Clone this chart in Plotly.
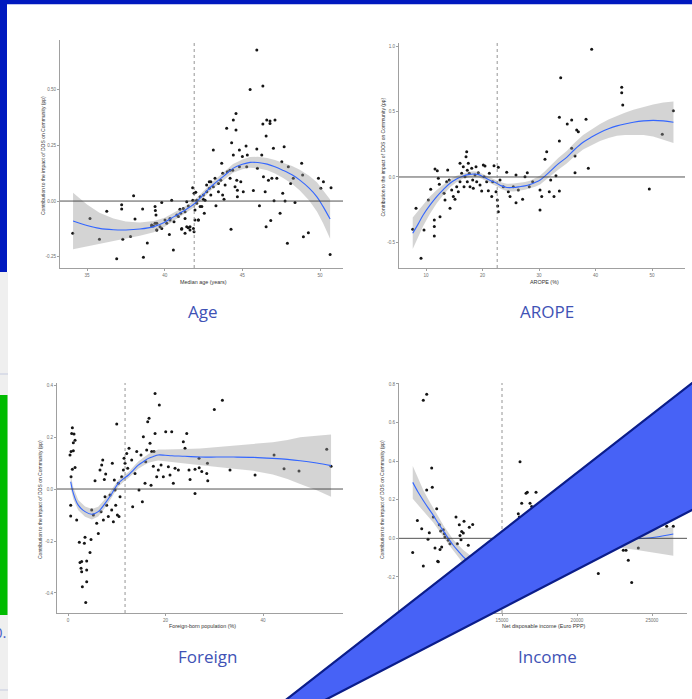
import plotly.graph_objects as go

W, H = 692, 699

# ---------------- Age panel ----------------
age_x = [34.08, 35.19, 35.8, 36.27, 36.91, 37.23, 37.23, 37.3, 37.8, 38.0, 38.09, 38.58, 38.63, 38.88,
         39.16, 39.38, 39.4, 39.44, 39.49, 39.81, 40.3, 40.45, 40.56, 40.98, 41.09, 41.31, 41.42, 41.52,
         41.8, 41.89, 41.89, 42.0, 42.17, 42.28, 42.49, 42.55, 42.7, 42.87, 42.97, 43.13, 43.3, 43.46,
         43.67, 43.73, 43.82, 43.99, 44.2, 44.27, 44.31, 44.42, 44.42, 44.59, 44.59, 44.64, 44.68, 44.81,
         44.9, 45.0, 45.24, 45.28, 45.32, 45.5, 45.71, 45.93, 45.93, 45.97, 46.1, 46.25, 46.32, 46.32,
         46.36, 46.47, 46.53, 46.57, 46.53, 46.68, 46.78, 46.83, 46.9, 47.0, 47.04, 47.22, 47.43, 47.54,
         47.6, 47.69, 47.75, 47.9, 47.96, 48.11, 48.28, 48.39, 48.82, 48.88, 48.93, 49.25, 49.9, 50.05,
         50.22, 50.65, 50.71,
         39.27, 39.49, 39.7, 40.02, 40.34, 40.6, 40.78, 41.03, 41.2, 41.31, 41.52, 41.63, 41.81, 41.95,
         42.06, 42.17, 42.28, 42.39, 42.49, 42.6, 42.71, 42.88, 42.97, 43.13, 43.24, 43.46, 43.61, 43.74,
         43.89, 44.03, 44.21, 44.38, 44.53, 44.68, 44.81, 45.06, 46.78, 47.1,
         39.16, 39.38, 39.49, 39.81, 40.13, 40.34, 40.88, 41.1, 41.31, 41.42, 41.63, 41.85, 41.95, 42.06]
age_y = [-0.145, -0.078, -0.172, -0.046, -0.259, -0.017, -0.036, -0.172, -0.159, 0.024, -0.081, -0.036, -0.253, -0.189,
         -0.112, -0.025, -0.043, -0.063, -0.130, -0.007, -0.150, 0.004, -0.220, -0.037, -0.127, -0.145, -0.003, -0.120,
         0.06, 0.035, -0.138, 0.039, -0.085, -0.025, 0.008, -0.055, 0.072, 0.087, 0.027, 0.229, -0.021, 0.042,
         0.17, 0.027, 0.008, 0.327, 0.139, -0.127, 0.262, 0.364, 0.207, 0.394, 0.319, 0.094, 0.019, 0.229,
         0.087, 0.2, 0.247, 0.154, 0.207, 0.502, 0.047, 0.679, 0.234, 0.147, -0.021, 0.207, 0.346, 0.517,
         0.109, 0.042, 0.292, 0.364, -0.115, 0.094, 0.349, -0.088, 0.102, 0.237, 0.001, 0.102, -0.055, 0.177,
         0.035, 0.244, 0.0, -0.19, 0.154, 0.079, 0.102, -0.007, 0.17, 0.117, -0.16, -0.142, 0.102, 0.057,
         0.087, -0.24, 0.06,
         -0.112, -0.1, -0.115, -0.085, -0.078, -0.093, -0.063, -0.055, -0.033, -0.078, -0.022, -0.115, 0.004, -0.04,
         -0.01, -0.085, 0.019, -0.025, 0.027, 0.004, 0.042, 0.057, 0.087, 0.064, 0.102, 0.079, 0.094, 0.125,
         0.072, 0.132, 0.102, 0.139, 0.064, 0.049, 0.154, 0.042, 0.36, 0.364,
         -0.108, -0.1, -0.13, -0.123, -0.1, -0.085, -0.07, -0.123, -0.048, -0.115, -0.13, -0.123, -0.085, 0.004]
age_fit_x = [34.1, 35.0, 35.8, 36.7, 37.5, 38.4, 39.3, 40.0, 40.6, 41.2, 41.9, 42.5, 43.1, 43.8, 44.4, 45.0,
             45.5, 46.0, 46.6, 47.1, 47.6, 48.2, 48.7, 49.3, 49.8, 50.2, 50.65]
age_fit_y = [-0.090, -0.110, -0.123, -0.129, -0.130, -0.126, -0.115, -0.095, -0.070, -0.045, -0.013, 0.030, 0.072,
             0.112, 0.147, 0.165, 0.174, 0.173, 0.166, 0.154, 0.139, 0.118, 0.094, 0.058, 0.019, -0.025, -0.081]
age_fit_lo = [-0.217, -0.205, -0.193, -0.179, -0.168, -0.156, -0.140, -0.115, -0.088, -0.061, -0.028, 0.015, 0.056,
              0.094, 0.127, 0.143, 0.150, 0.147, 0.138, 0.124, 0.105, 0.078, 0.047, 0.002, -0.047, -0.100, -0.169]
age_fit_hi = [0.037, -0.015, -0.053, -0.079, -0.092, -0.096, -0.090, -0.075, -0.052, -0.029, 0.002, 0.045, 0.088,
              0.130, 0.167, 0.187, 0.198, 0.199, 0.194, 0.184, 0.173, 0.158, 0.141, 0.114, 0.085, 0.050, 0.007]
age_xticks = [35, 40, 45, 50]
age_xticklabels = ["35", "40", "45", "50"]
age_yticks = [-0.25, 0.0, 0.25, 0.5]
age_yticklabels = ["-0.25", "0.00", "0.25", "0.50"]
age_threshold = 41.9

# ---------------- AROPE panel ----------------
arope_x = [7.65, 8.23, 9.12, 9.65, 10.42, 10.83, 11.47, 11.47, 11.47, 11.59, 12.0, 12.18, 12.36, 12.48, 13.19,
           13.36, 13.66, 13.84, 14.12, 14.25, 14.55, 14.83, 15.13, 15.43, 15.72, 16.02, 16.02, 16.31, 16.6,
           16.73, 16.9, 17.08, 17.2, 17.31, 17.31, 17.49, 17.66, 17.79, 18.09, 18.26, 18.37, 18.67, 18.85,
           18.97, 19.26, 19.56, 19.85, 20.14, 20.27, 20.44, 20.74, 21.03, 21.21, 21.63, 21.8, 22.04, 22.39,
           22.62, 22.69, 22.8, 22.8, 23.1, 23.68, 24.28, 24.57, 24.87, 25.45, 25.93, 25.93, 26.34, 27.1,
           27.52, 27.93, 28.28, 28.88, 30.18, 30.18, 30.48, 31.06, 31.36, 31.82, 32.07, 32.65, 33.0, 33.6,
           33.6, 33.6, 33.84, 35.0, 35.78, 35.78, 36.37, 36.37, 36.67, 36.96, 38.32, 38.73, 39.32, 44.64,
           44.64, 44.82, 49.52, 51.82, 53.77]
arope_y = [-0.40, -0.239, -0.621, -0.405, -0.176, -0.094, -0.328, -0.379, -0.45, 0.061, 0.048, -0.01, -0.056,
           -0.303, -0.124, -0.176, -0.036, 0.053, -0.023, -0.239, -0.099, -0.15, -0.17, -0.074, -0.112, 0.104,
           -0.036, 0.028, 0.079, -0.074, 0.002, 0.155, 0.193, 0.051, -0.036, 0.104, 0.028, -0.074, 0.066,
           -0.023, -0.086, 0.015, 0.079, -0.036, 0.033, -0.061, -0.107, 0.092, 0.002, 0.084, -0.036, -0.105,
           0.028, -0.15, -0.036, 0.086, -0.112, -0.176, -0.221, -0.265, 0.074, -0.023, -0.074, 0.036, -0.112,
           -0.15, -0.074, 0.015, -0.196, -0.099, -0.17, 0.002, 0.033, -0.074, -0.036, -0.252, -0.099, -0.15,
           0.135, 0.193, -0.112, -0.023, -0.15, 0.01, 0.456, 0.275, -0.107, 0.758, 0.405, 0.435, 0.219, 0.16,
           0.033, 0.359, 0.346, 0.44, 0.066, 0.975, 0.685, 0.644, 0.55, -0.092, 0.326, 0.506]
arope_fit_x = [7.65, 8.6, 9.5, 10.7, 11.9, 13.1, 14.25, 15.4, 16.6, 17.5, 18.4, 19.3, 20.1, 21.3, 22.5, 23.4,
               24.3, 25.5, 26.6, 27.5, 28.4, 29.3, 30.2, 31.0, 32.0, 33.4, 34.9, 36.3, 37.8, 39.3, 40.8, 42.3,
               43.8, 45.2, 46.7, 48.5, 50.2, 52.0, 53.8]
arope_fit_y = [-0.43, -0.36, -0.29, -0.215, -0.15, -0.095, -0.048, -0.015, 0.008, 0.018, 0.023, 0.018, 0.002,
               -0.025, -0.048, -0.068, -0.080, -0.080, -0.074, -0.068, -0.058, -0.042, -0.023, 0.005, 0.045, 0.10,
               0.15, 0.21, 0.265, 0.305, 0.34, 0.368, 0.39, 0.405, 0.418, 0.428, 0.432, 0.428, 0.418]
arope_fit_lo = [-0.55, -0.46, -0.375, -0.28, -0.20, -0.135, -0.078, -0.04, -0.012, -0.002, 0.003, -0.002, -0.018,
                -0.045, -0.07, -0.093, -0.108, -0.11, -0.104, -0.098, -0.088, -0.074, -0.058, -0.032, 0.005, 0.056,
                0.102, 0.158, 0.209, 0.245, 0.275, 0.298, 0.314, 0.32, 0.323, 0.32, 0.31, 0.288, 0.26]
arope_fit_hi = [-0.31, -0.26, -0.205, -0.15, -0.10, -0.055, -0.018, 0.01, 0.028, 0.038, 0.043, 0.038, 0.022,
                -0.005, -0.026, -0.043, -0.052, -0.05, -0.044, -0.038, -0.028, -0.01, 0.012, 0.042, 0.085, 0.144,
                0.198, 0.262, 0.321, 0.365, 0.405, 0.438, 0.466, 0.49, 0.513, 0.536, 0.554, 0.568, 0.576]
arope_xticks = [10, 20, 30, 40, 50]
arope_xticklabels = ["10", "20", "30", "40", "50"]
arope_yticks = [-0.5, 0.0, 0.5, 1.0]
arope_yticklabels = ["-0.5", "0.0", "0.5", "1.0"]
arope_threshold = 22.6

# ---------------- Foreign panel ----------------
foreign_x = [0.89, 0.75, 1.23, 1.44, 1.09, 0.62, 1.09, 0.41, 1.44, 0.89, 0.62, 0.55, 0.55, 1.78, 2.32, 3.35,
             3.49, 2.46, 2.8, 2.67, 2.8, 3.83, 3.83, 2.94, 3.83, 3.63, 4.51, 4.72, 4.86, 5.2, 5.54, 5.88, 6.22,
             6.56, 6.77, 6.91, 7.12, 7.25, 7.45, 7.59, 7.73, 7.93, 8.27, 8.62, 8.96, 9.09, 9.3, 9.5, 9.64, 9.78,
             9.99, 10.12, 10.32, 10.46, 10.67, 11.01, 11.35, 11.49, 11.69, 12.04, 12.24, 12.51, 13.06, 13.26,
             13.74, 14.09, 14.56, 14.97, 15.25, 15.45, 15.79, 15.93, 16.14, 16.34, 16.62, 16.82, 17.03, 17.16,
             17.5, 17.64, 17.85, 17.85, 18.19, 18.52, 18.73, 19.08, 19.55, 20.04, 20.58, 20.92, 21.27, 21.6,
             21.95, 22.63, 23.65, 24.0, 24.35, 24.82, 25.03, 26.05, 26.05, 26.87, 27.43, 28.45, 28.66, 26.9,
             28.6, 30.01, 31.66, 33.23, 38.36, 42.26, 44.31, 47.38, 53.06, 53.95]
foreign_y = [0.236, 0.214, 0.212, 0.188, 0.178, 0.144, 0.147, 0.131, 0.083, 0.076, 0.047, -0.062, -0.104, -0.119,
             -0.205, -0.209, -0.186, -0.283, -0.279, -0.305, -0.318, -0.277, -0.312, -0.376, -0.357, -0.437,
             -0.244, -0.194, -0.081, -0.1, 0.032, -0.132, -0.171, 0.073, -0.087, 0.092, 0.112, -0.119, 0.037,
             -0.03, 0.058, -0.062, -0.106, -0.023, -0.081, 0.099, -0.126, 0.035, -0.004, -0.062, 0.25, -0.1,
             0.022, -0.106, -0.03, 0.047, 0.073, 0.118, 0.099, 0.137, 0.08, 0.157, 0.112, -0.068, 0.06, 0.144,
             -0.004, 0.131, -0.049, 0.201, 0.022, 0.105, 0.15, 0.259, 0.272, 0.176, 0.015, 0.144, 0.088, 0.144,
             0.368, 0.214, 0.047, 0.073, 0.323, 0.092, 0.047, 0.22, 0.086, 0.054, 0.22, 0.022, 0.08, 0.073,
             0.182, 0.157, 0.214, 0.073, 0.037, -0.017, 0.076, 0.118, 0.067, 0.06, 0.032, 0.082, 0.099, 0.306,
             0.342, 0.073, 0.054, 0.131, 0.078, 0.069, 0.153, 0.088]
foreign_fit_x = [0.55, 1.1, 2.1, 3.5, 4.9, 6.2, 7.6, 9.0, 10.3, 11.4, 12.4, 13.4, 14.4, 15.5, 16.5, 17.5, 18.5,
                 19.9, 21.3, 24.0, 27.1, 30.5, 34.0, 38.0, 42.0, 45.0, 47.6, 51.0, 53.95]
foreign_fit_y = [0.028, -0.017, -0.062, -0.087, -0.097, -0.087, -0.055, -0.017, 0.022, 0.040, 0.054, 0.073, 0.092,
                 0.106, 0.118, 0.125, 0.131, 0.130, 0.128, 0.126, 0.123, 0.123, 0.123, 0.122, 0.118, 0.114, 0.109,
                 0.100, 0.090]
foreign_fit_lo = [0.003, -0.039, -0.082, -0.107, -0.117, -0.106, -0.072, -0.032, 0.009, 0.028, 0.042, 0.060, 0.078,
                  0.091, 0.101, 0.106, 0.110, 0.108, 0.104, 0.098, 0.090, 0.084, 0.078, 0.070, 0.056, 0.039, 0.019,
                  -0.005, -0.030]
foreign_fit_hi = [0.053, 0.005, -0.042, -0.067, -0.077, -0.068, -0.038, -0.002, 0.035, 0.052, 0.066, 0.086, 0.106,
                  0.121, 0.135, 0.144, 0.152, 0.152, 0.152, 0.154, 0.156, 0.162, 0.168, 0.174, 0.180, 0.189, 0.199,
                  0.205, 0.210]
foreign_xticks = [0, 20, 40]
foreign_xticklabels = ["0", "20", "40"]
foreign_yticks = [-0.4, -0.2, 0.0, 0.2, 0.4]
foreign_yticklabels = ["-0.4", "-0.2", "0.0", "0.2", "0.4"]
foreign_threshold = 11.7

# ---------------- Income panel ----------------
income_x = [9047, 9356, 9647, 9753, 9753, 9980, 9980, 10067, 10153, 10313, 10353, 10420, 10533, 10647, 10713,
            10820, 10867, 10913, 10980, 11087, 11153, 11200, 11420, 11533, 11933, 12020, 12153, 12200, 12267,
            12313, 12420, 12467, 12753, 12820, 13047, 10753,
            16200, 16087, 16153, 16313, 16600, 16687, 16867, 16980, 17267, 23087, 23267, 23420, 23647, 21420,
            24087, 25980, 26420]
income_y = [-0.074, 0.093, 0.05, 0.716, -0.143, 0.747, 0.251, -0.005, 0.029, 0.365, 0.265, 0.11, -0.05, 0.153,
            -0.119, 0.071, -0.058, 0.038, -0.045, 0.045, 0.024, 0.007, -0.01, -0.028, 0.11, -0.028, 0.071, 0.015,
            -0.007, 0.036, 0.028, 0.088, -0.036, 0.058, 0.072, -0.122,
            0.397, 0.127, 0.11, 0.182, 0.234, 0.239, 0.182, 0.165, 0.239, -0.062, -0.062, -0.114, -0.229, -0.182,
            -0.05, 0.062, 0.062]
income_fit_x = [9050, 9400, 9750, 10100, 10420, 10750, 11090, 11420, 11750, 12100, 12420, 13000, 13800, 14800,
                16000, 17500, 19000, 20500, 22000, 23000, 24000, 25300, 26420]
income_fit_y = [0.29, 0.24, 0.196, 0.155, 0.119, 0.078, 0.038, 0.0, -0.036, -0.068, -0.096, -0.135, -0.16, -0.15,
                -0.10, -0.04, 0.0, 0.01, 0.005, 0.0, -0.002, 0.007, 0.022]
income_fit_lo = [0.205, 0.17, 0.141, 0.11, 0.082, 0.046, 0.008, -0.03, -0.066, -0.10, -0.131, -0.175, -0.205, -0.2,
                 -0.15, -0.085, -0.045, -0.035, -0.04, -0.05, -0.06, -0.075, -0.09]
income_fit_hi = [0.375, 0.31, 0.251, 0.20, 0.156, 0.11, 0.068, 0.03, -0.006, -0.036, -0.061, -0.095, -0.115, -0.1,
                 -0.05, 0.005, 0.045, 0.055, 0.05, 0.045, 0.042, 0.05, 0.058]
income_xticks = [15000, 20000, 25000]
income_xticklabels = ["15000", "20000", "25000"]
income_yticks = [-0.2, 0.0, 0.2, 0.4, 0.6, 0.8]
income_yticklabels = ["-0.2", "0.0", "0.2", "0.4", "0.6", "0.8"]
income_threshold = 15000

y_title = "Contribution to the impact of DOS on Community (pp)"

panels = [
    dict(title="Age", xtitle="Median age (years)", xs=age_x, ys=age_y, fx=age_fit_x, fy=age_fit_y,
         flo=age_fit_lo, fhi=age_fit_hi, xt=age_xticks, xtl=age_xticklabels, yt=age_yticks,
         ytl=age_yticklabels, thr=age_threshold,
         box=(60, 343, 40, 268), xr=[33.26, 51.48], yr=[-0.301, 0.724], title_pos=(203, 311),
         xtitle_pos=(203, 282)),
    dict(title="AROPE", xtitle="AROPE (%)", xs=arope_x, ys=arope_y, fx=arope_fit_x, fy=arope_fit_y,
         flo=arope_fit_lo, fhi=arope_fit_hi, xt=arope_xticks, xtl=arope_xticklabels, yt=arope_yticks,
         ytl=arope_yticklabels, thr=arope_threshold,
         box=(399, 685, 43, 268), xr=[5.22, 55.84], yr=[-0.695, 1.023], title_pos=(547, 311),
         xtitle_pos=(544, 282)),
    dict(title="Foreign", xtitle="Foreign-born population (%)", xs=foreign_x, ys=foreign_y, fx=foreign_fit_x,
         fy=foreign_fit_y, flo=foreign_fit_lo, fhi=foreign_fit_hi, xt=foreign_xticks, xtl=foreign_xticklabels,
         yt=foreign_yticks, ytl=foreign_yticklabels, thr=foreign_threshold,
         box=(57, 343, 383, 613), xr=[-2.26, 56.4], yr=[-0.477, 0.408], title_pos=(207, 656),
         xtitle_pos=(202, 626)),
    dict(title="Income", xtitle="Net disposable income (Euro PPP)", xs=income_x, ys=income_y, fx=income_fit_x,
         fy=income_fit_y, flo=income_fit_lo, fhi=income_fit_hi, xt=income_xticks, xtl=income_xticklabels,
         yt=income_yticks, ytl=income_yticklabels, thr=income_threshold,
         box=(399, 687, 383, 613), xr=[8133, 27333], yr=[-0.387, 0.805], title_pos=(547, 656),
         xtitle_pos=(543, 626)),
]


def fx_(p):
    return p / W


def fy_(p):
    return 1 - p / H


fig = go.Figure()
shapes = []
annotations = []
layout_axes = {}
tick_font = dict(family="Liberation Sans, Arial, sans-serif", size=4.6, color="#707070")
axis_col = "#a0a0a0"

for i, p in enumerate(panels):
    n = "" if i == 0 else str(i + 1)
    xa, ya = "x" + n, "y" + n
    x0, x1, y0, y1 = p["box"]
    # points
    fig.add_trace(go.Scatter(x=p["xs"], y=p["ys"], mode="markers", xaxis=xa, yaxis=ya,
                             marker=dict(color="#151515", size=3.0, line=dict(width=0)),
                             showlegend=False, hoverinfo="skip"))
    # confidence band
    fig.add_trace(go.Scatter(x=p["fx"] + p["fx"][::-1], y=p["fhi"] + p["flo"][::-1], mode="lines",
                             fill="toself", fillcolor="rgba(153,153,153,0.42)",
                             line=dict(width=0, color="rgba(0,0,0,0)"), xaxis=xa, yaxis=ya,
                             showlegend=False, hoverinfo="skip"))
    # smooth line
    fig.add_trace(go.Scatter(x=p["fx"], y=p["fy"], mode="lines",
                             line=dict(color="#3366FF", width=1.1, shape="spline"),
                             xaxis=xa, yaxis=ya, showlegend=False, hoverinfo="skip"))
    layout_axes["xaxis" + n] = dict(domain=[fx_(x0), fx_(x1)], range=p["xr"], anchor=ya,
                                    tickvals=p["xt"], ticktext=p["xtl"], showgrid=False, zeroline=False,
                                    showline=True, linecolor=axis_col, linewidth=1, ticks="outside",
                                    ticklen=2, tickwidth=0.8, tickcolor=axis_col, tickfont=tick_font)
    layout_axes["yaxis" + n] = dict(domain=[fy_(y1), fy_(y0)], range=p["yr"], anchor=xa,
                                    tickvals=p["yt"], ticktext=p["ytl"], showgrid=False, zeroline=False,
                                    showline=True, linecolor=axis_col, linewidth=1, ticks="outside",
                                    ticklen=2, tickwidth=0.8, tickcolor=axis_col, tickfont=tick_font)
    xdom = xa + " domain"
    ydom = ya + " domain"
    shapes.append(dict(type="line", xref=xdom, yref=ya, x0=0, x1=1, y0=0, y1=0,
                       line=dict(color="#404040", width=0.9), layer="above"))
    shapes.append(dict(type="line", xref=xa, yref=ydom, x0=p["thr"], x1=p["thr"], y0=0, y1=1,
                       line=dict(color="#7a7a7a", width=0.8, dash="dot"), layer="above"))
    # y title
    annotations.append(dict(text=y_title, xref="paper", yref="paper", xanchor="center", yanchor="middle",
                            x=fx_(x0 - 17), y=fy_((y0 + y1) / 2 + 2), textangle=-90, showarrow=False,
                            font=dict(family="Liberation Sans, Arial, sans-serif", size=5, color="#333")))
    # x title
    tx2, ty2 = p["xtitle_pos"]
    annotations.append(dict(text=p["xtitle"], xref="paper", yref="paper", xanchor="center", yanchor="middle",
                            x=fx_(tx2), y=fy_(ty2), showarrow=False,
                            font=dict(family="Liberation Sans, Arial, sans-serif", size=5.4, color="#333")))
    # panel caption
    tx, ty = p["title_pos"]
    annotations.append(dict(text=p["title"], xref="paper", yref="paper", xanchor="center", yanchor="middle",
                            x=fx_(tx), y=fy_(ty), showarrow=False,
                            font=dict(family="Open Sans, Lato, sans-serif", size=17, color="#4052b5")))

# ----- page decorations -----
blue_dark = "#0019bf"
deco = [
    dict(type="rect", xref="paper", yref="paper", x0=fx_(0), x1=fx_(8), y0=fy_(699), y1=fy_(272),
         fillcolor="#efefef", line=dict(width=0)),
    dict(type="line", xref="paper", yref="paper", x0=fx_(0), x1=fx_(8), y0=fy_(374), y1=fy_(374),
         line=dict(color="#c5cbe0", width=1)),
    dict(type="line", xref="paper", yref="paper", x0=fx_(0), x1=fx_(8), y0=fy_(690), y1=fy_(690),
         line=dict(color="#c5cbe0", width=1)),
    dict(type="rect", xref="paper", yref="paper", x0=fx_(0), x1=fx_(7.5), y0=fy_(615), y1=fy_(395),
         fillcolor="#00bb00", line=dict(width=0)),
    dict(type="rect", xref="paper", yref="paper", x0=fx_(-2), x1=fx_(7), y0=fy_(272), y1=fy_(-2),
         fillcolor=blue_dark, line=dict(width=0)),
    dict(type="rect", xref="paper", yref="paper", x0=fx_(-2), x1=fx_(694), y0=fy_(4.2), y1=fy_(-2),
         fillcolor=blue_dark, line=dict(width=0)),
]
band_pts = [(279.3, 705), (700, 376.8), (700, 505.9), (315.4, 705)]
path = "M " + " L ".join(f"{fx_(a):.5f},{fy_(b):.5f}" for a, b in band_pts) + " Z"
deco.append(dict(type="path", xref="paper", yref="paper", path=path, fillcolor="#4762f6",
                 line=dict(color="#0b1d8a", width=2.2)))
for d in deco:
    d["layer"] = "above"
shapes.extend(deco)

annotations.append(dict(text="0.", xref="paper", yref="paper", x=fx_(8.5), y=fy_(632), xanchor="right",
                        yanchor="middle", showarrow=False,
                        font=dict(family="Open Sans, sans-serif", size=15, color="#4a5fc8")))

fig.update_layout(
    width=W, height=H, margin=dict(l=0, r=0, t=0, b=0), autosize=False,
    paper_bgcolor="white", plot_bgcolor="white", showlegend=False,
    shapes=shapes, annotations=annotations, **layout_axes,
)

fig.write_html("out.html", config={"displayModeBar": False},
               post_script="document.body.style.margin='0';document.body.style.padding='0';"
                           "document.documentElement.style.overflow='hidden';"
                           "document.body.style.overflow='hidden';")
